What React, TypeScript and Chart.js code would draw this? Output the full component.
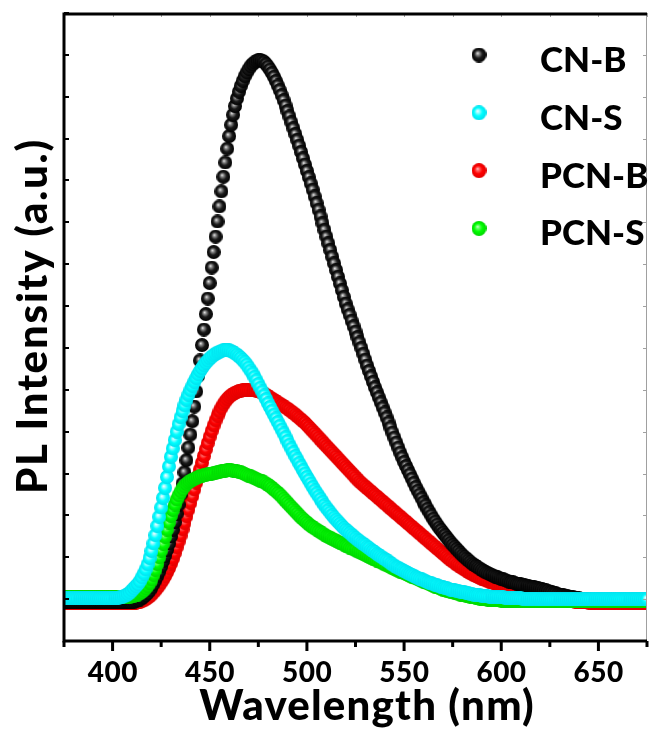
import React, { useEffect, useRef } from 'react';
import { Chart, registerables } from 'chart.js';

Chart.register(...registerables);

// ---------------- data ----------------
const WL_START = 375; // nm, first sample; 1 nm step
const X_MIN = 375;
const X_MAX = 675;
const Y_MIN = 0;
const Y_MAX = 15;
const X_MAJOR_TICKS = [400, 450, 500, 550, 600, 650];
const X_TICK_LABELS = ['400', '450', '500', '550', '600', '650'];
const X_MINOR_TICKS = [375, 425, 475, 525, 575, 625, 675];
const SERIES_NAMES = ['CN-B', 'CN-S', 'PCN-B', 'PCN-S'];
const X_TITLE = 'Wavelength (nm)';
const Y_TITLE = 'PL Intensity (a.u.)';

const cnB = [
  0.93, 0.93, 0.93, 0.93, 0.93,
  0.93, 0.93, 0.93, 0.93, 0.93, 0.93, 0.93, 0.93, 0.93, 0.93,
  0.93, 0.93, 0.93, 0.93, 0.93, 0.93, 0.93, 0.93, 0.93, 0.93,
  0.93, 0.93, 0.93, 0.93, 0.93, 0.93, 0.93, 0.93, 0.93, 0.93,
  0.93, 0.94, 0.95, 0.97, 0.99, 1.02, 1.06, 1.10, 1.15, 1.21,
  1.28, 1.36, 1.45, 1.55, 1.66, 1.78, 1.91, 2.04, 2.18, 2.33,
  2.50, 2.66, 2.84, 3.04, 3.26, 3.50, 3.76, 4.03, 4.32, 4.62,
  4.93, 5.25, 5.60, 5.96, 6.33, 6.70, 7.07, 7.44, 7.81, 8.18,
  8.55, 8.92, 9.29, 9.66, 10.02, 10.38, 10.74, 11.09, 11.43, 11.76,
  12.06, 12.33, 12.57, 12.78, 12.96, 13.12, 13.26, 13.38, 13.49, 13.58,
  13.66, 13.73, 13.78, 13.82, 13.85, 13.87, 13.88, 13.86, 13.83, 13.78,
  13.72, 13.65, 13.57, 13.48, 13.38, 13.27, 13.16, 13.04, 12.92, 12.79,
  12.66, 12.53, 12.39, 12.25, 12.11, 11.97, 11.83, 11.68, 11.53, 11.38,
  11.23, 11.08, 10.93, 10.78, 10.62, 10.46, 10.30, 10.14, 9.98, 9.82,
  9.66, 9.50, 9.34, 9.18, 9.02, 8.86, 8.70, 8.54, 8.38, 8.22,
  8.06, 7.92, 7.79, 7.65, 7.52, 7.39, 7.26, 7.13, 7.00, 6.86,
  6.72, 6.58, 6.45, 6.32, 6.19, 6.06, 5.94, 5.82, 5.70, 5.58,
  5.46, 5.34, 5.22, 5.10, 4.98, 4.86, 4.74, 4.62, 4.50, 4.39,
  4.28, 4.18, 4.08, 3.98, 3.88, 3.78, 3.68, 3.59, 3.50, 3.41,
  3.32, 3.24, 3.16, 3.08, 3.00, 2.92, 2.85, 2.78, 2.71, 2.65,
  2.59, 2.53, 2.47, 2.41, 2.35, 2.30, 2.25, 2.20, 2.15, 2.10,
  2.05, 2.01, 1.97, 1.93, 1.89, 1.85, 1.82, 1.79, 1.76, 1.73,
  1.70, 1.67, 1.64, 1.62, 1.60, 1.58, 1.56, 1.54, 1.52, 1.50,
  1.48, 1.47, 1.45, 1.44, 1.42, 1.41, 1.40, 1.38, 1.37, 1.36,
  1.35, 1.34, 1.33, 1.32, 1.31, 1.30, 1.29, 1.28, 1.27, 1.26,
  1.25, 1.24, 1.22, 1.21, 1.20, 1.18, 1.17, 1.15, 1.14, 1.12,
  1.11, 1.10, 1.09, 1.08, 1.07, 1.06, 1.05, 1.04, 1.03, 1.03,
  1.02, 1.01, 1.01, 1.00, 1.00, 0.99, 0.99, 0.99, 0.99, 0.99,
  0.99, 0.99, 0.99, 0.99, 0.99, 0.99, 0.99, 0.99, 0.99, 0.99,
  0.99, 0.99, 0.99, 0.99, 0.99, 0.99, 0.99, 0.99, 0.99, 0.99,
  0.99, 0.99, 0.99, 0.99, 0.99, 0.99,
];

const cnS = [
  1.02, 1.02, 1.02, 1.02, 1.02,
  1.02, 1.02, 1.02, 1.02, 1.02, 1.02, 1.02, 1.02, 1.02, 1.02,
  1.02, 1.02, 1.02, 1.02, 1.02, 1.02, 1.02, 1.02, 1.02, 1.02,
  1.02, 1.02, 1.03, 1.03, 1.04, 1.05, 1.07, 1.09, 1.12, 1.16,
  1.21, 1.26, 1.31, 1.36, 1.43, 1.52, 1.61, 1.71, 1.83, 1.98,
  2.15, 2.33, 2.53, 2.75, 2.97, 3.19, 3.42, 3.66, 3.92, 4.17,
  4.40, 4.60, 4.80, 5.00, 5.18, 5.34, 5.49, 5.63, 5.76, 5.88,
  5.99, 6.09, 6.19, 6.28, 6.37, 6.45, 6.52, 6.59, 6.65, 6.70,
  6.75, 6.79, 6.83, 6.86, 6.89, 6.91, 6.93, 6.94, 6.95, 6.95,
  6.94, 6.92, 6.90, 6.87, 6.84, 6.80, 6.76, 6.71, 6.66, 6.60,
  6.53, 6.46, 6.39, 6.31, 6.23, 6.14, 6.05, 5.96, 5.87, 5.78,
  5.68, 5.59, 5.50, 5.41, 5.32, 5.23, 5.14, 5.05, 4.96, 4.87,
  4.78, 4.69, 4.60, 4.51, 4.42, 4.34, 4.25, 4.17, 4.08, 4.00,
  3.92, 3.84, 3.76, 3.68, 3.60, 3.53, 3.46, 3.39, 3.32, 3.25,
  3.19, 3.13, 3.07, 3.01, 2.95, 2.90, 2.85, 2.80, 2.75, 2.70,
  2.66, 2.62, 2.58, 2.54, 2.50, 2.46, 2.42, 2.39, 2.35, 2.32,
  2.29, 2.25, 2.22, 2.18, 2.15, 2.12, 2.08, 2.05, 2.02, 1.99,
  1.96, 1.93, 1.90, 1.86, 1.83, 1.80, 1.77, 1.75, 1.72, 1.70,
  1.67, 1.65, 1.62, 1.60, 1.58, 1.56, 1.53, 1.51, 1.49, 1.47,
  1.45, 1.43, 1.41, 1.39, 1.38, 1.36, 1.34, 1.33, 1.31, 1.30,
  1.28, 1.27, 1.26, 1.24, 1.23, 1.22, 1.21, 1.20, 1.19, 1.18,
  1.17, 1.16, 1.15, 1.14, 1.13, 1.12, 1.11, 1.10, 1.10, 1.09,
  1.08, 1.08, 1.07, 1.07, 1.06, 1.06, 1.05, 1.05, 1.05, 1.04,
  1.04, 1.04, 1.03, 1.03, 1.03, 1.03, 1.02, 1.02, 1.02, 1.02,
  1.02, 1.01, 1.01, 1.01, 1.01, 1.01, 1.01, 1.01, 1.01, 1.01,
  1.00, 1.00, 1.00, 1.00, 1.00, 1.00, 1.00, 1.00, 1.00, 1.00,
  1.00, 1.00, 1.00, 1.00, 1.00, 1.00, 1.00, 1.00, 1.00, 1.00,
  1.00, 1.00, 1.00, 1.00, 1.00, 1.00, 1.00, 1.00, 1.00, 1.00,
  1.00, 1.00, 1.00, 1.00, 1.00, 1.00, 1.00, 1.00, 1.00, 1.00,
  1.00, 1.00, 1.00, 1.00, 1.00, 1.00, 1.00, 1.00, 1.00, 1.00,
  1.00, 1.00, 1.00, 1.00, 1.00, 1.00,
];

const pcnB = [
  0.90, 0.90, 0.90, 0.90, 0.90,
  0.90, 0.90, 0.90, 0.90, 0.90, 0.90, 0.90, 0.90, 0.90, 0.90,
  0.90, 0.90, 0.90, 0.90, 0.90, 0.90, 0.90, 0.90, 0.90, 0.90,
  0.90, 0.90, 0.90, 0.90, 0.90, 0.90, 0.90, 0.90, 0.90, 0.90,
  0.90, 0.90, 0.91, 0.92, 0.93, 0.95, 0.97, 1.00, 1.03, 1.07,
  1.11, 1.16, 1.21, 1.27, 1.33, 1.40, 1.47, 1.55, 1.64, 1.74,
  1.85, 1.97, 2.10, 2.24, 2.38, 2.52, 2.67, 2.82, 2.98, 3.14,
  3.30, 3.46, 3.62, 3.78, 3.94, 4.10, 4.26, 4.42, 4.58, 4.73,
  4.88, 5.02, 5.15, 5.27, 5.38, 5.48, 5.57, 5.65, 5.72, 5.78,
  5.83, 5.87, 5.90, 5.93, 5.95, 5.97, 5.98, 5.99, 6.00, 6.00,
  6.00, 6.00, 5.99, 5.99, 5.98, 5.97, 5.95, 5.93, 5.91, 5.88,
  5.85, 5.82, 5.79, 5.76, 5.73, 5.70, 5.67, 5.64, 5.61, 5.58,
  5.55, 5.52, 5.48, 5.45, 5.41, 5.37, 5.33, 5.29, 5.25, 5.21,
  5.16, 5.11, 5.06, 5.01, 4.96, 4.91, 4.86, 4.81, 4.76, 4.71,
  4.66, 4.61, 4.56, 4.51, 4.46, 4.41, 4.36, 4.31, 4.26, 4.21,
  4.16, 4.11, 4.06, 4.01, 3.96, 3.91, 3.86, 3.81, 3.77, 3.73,
  3.69, 3.65, 3.61, 3.57, 3.53, 3.49, 3.45, 3.41, 3.37, 3.33,
  3.29, 3.25, 3.21, 3.17, 3.13, 3.09, 3.05, 3.01, 2.97, 2.93,
  2.89, 2.85, 2.81, 2.77, 2.73, 2.69, 2.65, 2.61, 2.57, 2.53,
  2.49, 2.45, 2.41, 2.37, 2.33, 2.29, 2.25, 2.21, 2.17, 2.13,
  2.09, 2.05, 2.01, 1.97, 1.94, 1.90, 1.87, 1.83, 1.80, 1.77,
  1.74, 1.71, 1.68, 1.65, 1.62, 1.60, 1.57, 1.55, 1.53, 1.51,
  1.49, 1.47, 1.45, 1.43, 1.42, 1.40, 1.39, 1.37, 1.36, 1.35,
  1.34, 1.32, 1.31, 1.30, 1.29, 1.28, 1.26, 1.25, 1.24, 1.23,
  1.22, 1.21, 1.20, 1.18, 1.17, 1.16, 1.15, 1.14, 1.13, 1.12,
  1.10, 1.09, 1.08, 1.07, 1.06, 1.05, 1.04, 1.03, 1.02, 1.01,
  1.00, 0.99, 0.98, 0.97, 0.97, 0.96, 0.95, 0.95, 0.94, 0.94,
  0.93, 0.93, 0.92, 0.92, 0.92, 0.91, 0.91, 0.91, 0.91, 0.91,
  0.90, 0.90, 0.90, 0.90, 0.90, 0.90, 0.90, 0.90, 0.90, 0.90,
  0.90, 0.90, 0.90, 0.90, 0.90, 0.90, 0.90, 0.90, 0.90, 0.90,
  0.90, 0.90, 0.90, 0.90, 0.90, 0.90,
];

const pcnS = [
  1.06, 1.06, 1.06, 1.06, 1.06,
  1.06, 1.06, 1.06, 1.06, 1.06, 1.06, 1.06, 1.06, 1.06, 1.06,
  1.06, 1.06, 1.06, 1.06, 1.06, 1.06, 1.06, 1.06, 1.06, 1.06,
  1.06, 1.06, 1.06, 1.06, 1.06, 1.06, 1.06, 1.06, 1.06, 1.06,
  1.07, 1.08, 1.09, 1.11, 1.14, 1.17, 1.21, 1.26, 1.32, 1.39,
  1.47, 1.58, 1.70, 1.84, 2.00, 2.16, 2.32, 2.49, 2.66, 2.83,
  2.99, 3.13, 3.26, 3.38, 3.48, 3.57, 3.64, 3.70, 3.75, 3.79,
  3.82, 3.85, 3.87, 3.89, 3.91, 3.93, 3.95, 3.96, 3.97, 3.98,
  3.99, 4.00, 4.01, 4.02, 4.03, 4.04, 4.05, 4.06, 4.07, 4.08,
  4.08, 4.08, 4.07, 4.06, 4.05, 4.04, 4.03, 4.01, 3.99, 3.97,
  3.95, 3.93, 3.91, 3.89, 3.87, 3.85, 3.83, 3.81, 3.79, 3.76,
  3.73, 3.70, 3.66, 3.62, 3.58, 3.54, 3.50, 3.45, 3.40, 3.35,
  3.30, 3.25, 3.20, 3.15, 3.10, 3.05, 3.00, 2.95, 2.91, 2.87,
  2.83, 2.79, 2.75, 2.72, 2.69, 2.66, 2.63, 2.60, 2.57, 2.54,
  2.51, 2.49, 2.47, 2.44, 2.42, 2.40, 2.37, 2.35, 2.33, 2.30,
  2.28, 2.26, 2.23, 2.21, 2.19, 2.17, 2.14, 2.12, 2.10, 2.08,
  2.06, 2.04, 2.01, 1.99, 1.97, 1.95, 1.92, 1.90, 1.88, 1.86,
  1.83, 1.81, 1.79, 1.77, 1.74, 1.72, 1.70, 1.68, 1.66, 1.64,
  1.62, 1.60, 1.58, 1.56, 1.54, 1.52, 1.50, 1.48, 1.46, 1.44,
  1.42, 1.40, 1.38, 1.36, 1.34, 1.32, 1.30, 1.28, 1.27, 1.25,
  1.23, 1.22, 1.20, 1.19, 1.17, 1.16, 1.15, 1.14, 1.12, 1.11,
  1.10, 1.09, 1.08, 1.07, 1.06, 1.05, 1.04, 1.03, 1.02, 1.01,
  1.01, 1.00, 1.00, 0.99, 0.99, 0.98, 0.98, 0.97, 0.97, 0.97,
  0.96, 0.96, 0.96, 0.96, 0.96, 0.96, 0.96, 0.96, 0.96, 0.96,
  0.96, 0.96, 0.96, 0.96, 0.96, 0.96, 0.96, 0.96, 0.96, 0.96,
  0.96, 0.96, 0.96, 0.96, 0.96, 0.96, 0.96, 0.96, 0.96, 0.96,
  0.95, 0.95, 0.95, 0.95, 0.95, 0.95, 0.95, 0.95, 0.95, 0.95,
  0.95, 0.95, 0.95, 0.95, 0.95, 0.95, 0.95, 0.95, 0.95, 0.95,
  0.95, 0.95, 0.95, 0.95, 0.95, 0.95, 0.95, 0.95, 0.95, 0.95,
  0.95, 0.95, 0.95, 0.95, 0.95, 0.95, 0.95, 0.95, 0.95, 0.95,
  0.95, 0.95, 0.95, 0.95, 0.95, 0.95,
];

// ---------------- styling ----------------
const BALL_R = 7;
const FONT = 'Lato, "Open Sans", sans-serif';
const WEIGHT = '900';

type BallColors = { hi: string; mid: string; base: string; edge: string };
const BALL_BLACK: BallColors = { hi: '#f4f4f4', mid: '#8a8a8a', base: '#1a1a1a', edge: '#000000' };
const BALL_CYAN: BallColors = { hi: '#ffffff', mid: '#9ffcff', base: '#00ffff', edge: '#00e0ee' };
const BALL_RED: BallColors = { hi: '#ffd0d0', mid: '#ff6060', base: '#ff0000', edge: '#e00000' };
const BALL_GREEN: BallColors = { hi: '#d8ffd8', mid: '#66ff66', base: '#00ff00', edge: '#00d400' };

function makeBall(r: number, c: BallColors): HTMLCanvasElement {
  const size = Math.ceil(2 * r);
  const cv = document.createElement('canvas');
  cv.width = size;
  cv.height = size;
  const g = cv.getContext('2d')!;
  const cx = size / 2;
  const grad = g.createRadialGradient(cx - r * 0.2, cx - r * 0.25, 0, cx, cx, r);
  grad.addColorStop(0, c.hi);
  grad.addColorStop(0.22, c.mid);
  grad.addColorStop(0.55, c.base);
  grad.addColorStop(1, c.edge);
  g.fillStyle = grad;
  g.beginPath();
  g.arc(cx, cx, r, 0, Math.PI * 2);
  g.fill();
  return cv;
}

function toPoints(vals: number[]) {
  return vals.map((v, i) => ({ x: WL_START + i, y: v }));
}

let legendBalls: HTMLCanvasElement[] = [];

function fillSpaced(ctx: CanvasRenderingContext2D, text: string, x: number, y: number, spacing: number) {
  const c: any = ctx;
  if ('letterSpacing' in c) {
    c.letterSpacing = `${spacing}px`;
    if (ctx.textAlign === 'center') x += spacing / 2;
    ctx.fillText(text, x, y);
    c.letterSpacing = '0px';
  } else {
    ctx.fillText(text, x, y);
  }
}

const decorPlugin = {
  id: 'decor',
  afterDatasetsDraw(chart: any) {
    const { ctx, chartArea: a, scales } = chart;
    const x = scales.x;
    const y = scales.y;
    ctx.save();

    // right border (thin grey)
    ctx.strokeStyle = '#a0a0a0';
    ctx.lineWidth = 1;
    ctx.beginPath();
    ctx.moveTo(a.right - 0.5, a.top);
    ctx.lineTo(a.right - 0.5, a.bottom);
    ctx.stroke();

    // top ticks (thin grey, inward) and right ticks
    ctx.beginPath();
    for (let v = X_MIN; v <= X_MAX; v += 25) {
      const px = Math.round(x.getPixelForValue(v)) + 0.5;
      ctx.moveTo(px, a.top);
      ctx.lineTo(px, a.top + 4);
    }
    for (let v = Y_MIN; v <= Y_MAX; v += 1) {
      const py = Math.round(y.getPixelForValue(v)) + 0.5;
      ctx.moveTo(a.right, py);
      ctx.lineTo(a.right - 4, py);
    }
    ctx.stroke();

    // left ticks (inward)
    ctx.strokeStyle = '#000';
    ctx.lineWidth = 2;
    ctx.beginPath();
    for (let v = Y_MIN; v <= Y_MAX; v += 1) {
      const py = Math.round(y.getPixelForValue(v));
      ctx.moveTo(a.left, py);
      ctx.lineTo(a.left + 5, py);
    }
    ctx.stroke();

    // frame: top, left, bottom
    ctx.lineWidth = 3;
    ctx.beginPath();
    ctx.moveTo(a.left - 1.5, a.top + 1);
    ctx.lineTo(a.right, a.top + 1);
    ctx.moveTo(a.left, a.top);
    ctx.lineTo(a.left, a.bottom + 1.5);
    ctx.moveTo(a.left - 1.5, a.bottom);
    ctx.lineTo(a.right, a.bottom);
    ctx.stroke();

    // bottom ticks (outward)
    ctx.beginPath();
    for (const v of X_MAJOR_TICKS) {
      const px = x.getPixelForValue(v);
      ctx.moveTo(px, a.bottom);
      ctx.lineTo(px, a.bottom + 10);
    }
    for (const v of X_MINOR_TICKS) {
      const px = x.getPixelForValue(v);
      ctx.moveTo(px, a.bottom);
      ctx.lineTo(px, a.bottom + 6);
    }
    ctx.stroke();

    // tick labels
    ctx.fillStyle = '#000';
    ctx.font = `${WEIGHT} 28px ${FONT}`;
    ctx.textAlign = 'center';
    ctx.textBaseline = 'alphabetic';
    X_MAJOR_TICKS.forEach((v, i) => {
      fillSpaced(ctx, X_TICK_LABELS[i], x.getPixelForValue(v), a.bottom + 41, 0.5);
    });

    // axis titles
    ctx.font = `${WEIGHT} 42px ${FONT}`;
    fillSpaced(ctx, X_TITLE, (a.left + a.right) / 2 + 11, a.bottom + 79, 1.2);
    ctx.save();
    ctx.translate(a.left - 17, (a.top + a.bottom) / 2 - 10);
    ctx.rotate(-Math.PI / 2);
    fillSpaced(ctx, Y_TITLE, 0, 0, 1.8);
    ctx.restore();

    // legend
    ctx.font = `${WEIGHT} 35px ${FONT}`;
    ctx.textAlign = 'left';
    SERIES_NAMES.forEach((name, i) => {
      const cy = a.top + 42 + i * 57.8;
      const b = legendBalls[i];
      if (b) ctx.drawImage(b, 479 - b.width / 2, cy - b.height / 2);
      fillSpaced(ctx, name, 540, cy + 17, 0);
    });

    ctx.restore();
  },
};

export default function App() {
  const ref = useRef<HTMLCanvasElement | null>(null);

  useEffect(() => {
    document.body.style.margin = '0';
    let chart: Chart | null = null;
    let cancelled = false;

    const build = () => {
      if (cancelled || !ref.current) return;
      const balls = [
        makeBall(BALL_R, BALL_BLACK),
        makeBall(BALL_R, BALL_CYAN),
        makeBall(BALL_R, BALL_RED),
        makeBall(BALL_R, BALL_GREEN),
      ];
      legendBalls = [
        makeBall(BALL_R + 0.5, BALL_BLACK),
        makeBall(BALL_R + 0.5, BALL_CYAN),
        makeBall(BALL_R + 0.5, BALL_RED),
        makeBall(BALL_R + 0.5, BALL_GREEN),
      ];
      const seriesVals = [cnB, cnS, pcnB, pcnS];
      // drawing order: CN-S on top, then PCN-S, CN-B, PCN-B at bottom
      const orders = [2, 0, 3, 1];
      chart = new Chart(ref.current, {
        type: 'scatter',
        data: {
          datasets: seriesVals.map((vals, i) => ({
            label: SERIES_NAMES[i],
            data: toPoints(vals),
            pointStyle: balls[i] as any,
            pointRadius: BALL_R,
            showLine: false,
            order: orders[i],
            clip: 0,
          })),
        },
        options: {
          responsive: false,
          animation: false,
          events: [],
          layout: { padding: { left: 64, top: 13, right: 1, bottom: 88 } },
          plugins: { legend: { display: false }, tooltip: { enabled: false }, title: { display: false } },
          scales: {
            x: { type: 'linear', min: X_MIN, max: X_MAX, display: false },
            y: { type: 'linear', min: Y_MIN, max: Y_MAX, display: false },
          },
        },
        plugins: [decorPlugin],
      });
    };

    const fontsReady = (document as any).fonts
      ? Promise.all([
          (document as any).fonts.load(`${WEIGHT} 28px Lato`),
          (document as any).fonts.load(`${WEIGHT} 42px Lato`),
        ]).catch(() => null)
      : Promise.resolve(null);
    fontsReady.then(build);

    return () => {
      cancelled = true;
      if (chart) chart.destroy();
    };
  }, []);

  return (
    <div style={{ position: 'absolute', left: 0, top: 0, width: 655, height: 729, background: '#fff' }}>
      <canvas ref={ref} width={655} height={729} style={{ display: 'block', width: 655, height: 729 }} />
    </div>
  );
}
